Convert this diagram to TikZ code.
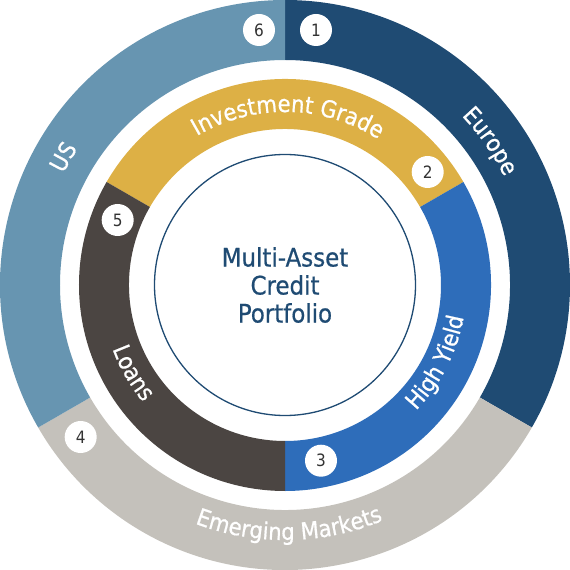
\documentclass[tikz,border=0pt]{standalone}
\usepackage{fontspec}
\setmainfont[BoldFont=DejaVu Sans Condensed, BoldFeatures={FakeBold=0.7}]{DejaVu Sans Condensed}
\usetikzlibrary{decorations.text}
\definecolor{europe}{HTML}{1F4B73}
\definecolor{usblue}{HTML}{6795B1}
\definecolor{emgray}{HTML}{C4C1BB}
\definecolor{iggold}{HTML}{DDB045}
\definecolor{hyblue}{HTML}{2E6DBA}
\definecolor{loans}{HTML}{4B4542}
\definecolor{titlenavy}{HTML}{1F4B73}
\definecolor{numgray}{HTML}{333333}
\newcommand\ringseg[5]{\fill[#1] (#2:#5) arc[start angle=#2, end angle=#3, radius=#5] -- (#3:#4) arc[start angle=#3, end angle=#2, radius=#4] -- cycle;}
\newcommand\arctext[4]{\path[decorate, decoration={text along path, text align=center, text={|\fontsize{23.5}{23.5}\selectfont\bfseries\color{white}|#4}}] (#2:#1) arc[start angle=#2, end angle=#3, radius=#1];}
\tikzset{
  numc/.style={circle, fill=white, minimum size=32pt, inner sep=0pt, text=numgray, font=\fontsize{17}{17}\selectfont},
  titletext/.style={align=center, text=titlenavy, font=\fontsize{25.5}{28}\selectfont\bfseries},
  core/.style={circle, draw=titlenavy, line width=1.3pt, minimum size=261pt, inner sep=0pt}
}
\begin{document}
\begin{tikzpicture}[x=1pt,y=1pt]
\useasboundingbox (-285,-285) rectangle (285,285);
% outer ring
\ringseg{europe}{90}{-30}{225}{285}
\ringseg{emgray}{-30}{-150}{225}{285}
\ringseg{usblue}{210}{90}{225}{285}
% middle ring
\ringseg{iggold}{150}{30}{156}{206}
\ringseg{hyblue}{30}{-90}{156}{206}
\ringseg{loans}{270}{150}{156}{206}
% core
\node[core] (core) at (0,0) {};
\node[titletext] (title) at (0,0) {Multi-Asset\\Credit\\Portfolio};
% curved labels
\arctext{173}{149}{29}{Investment Grade}
\arctext{244.5}{95}{-25}{Europe}
\arctext{248}{210}{90}{US}
\arctext{255}{-149}{-29}{Emerging Markets}
\arctext{181.5}{-87}{33}{High Yield}
\arctext{184}{150}{270}{Loans}
% numbers
\node[numc] (n1) at (31,255) {1};
\node[numc] (n2) at (142.7,113) {2};
\node[numc] (n3) at (36,-175.7) {3};
\node[numc] (n4) at (-204.3,-152) {4};
\node[numc] (n5) at (-167.3,65) {5};
\node[numc] (n6) at (-26,255) {6};
\end{tikzpicture}
\end{document}
